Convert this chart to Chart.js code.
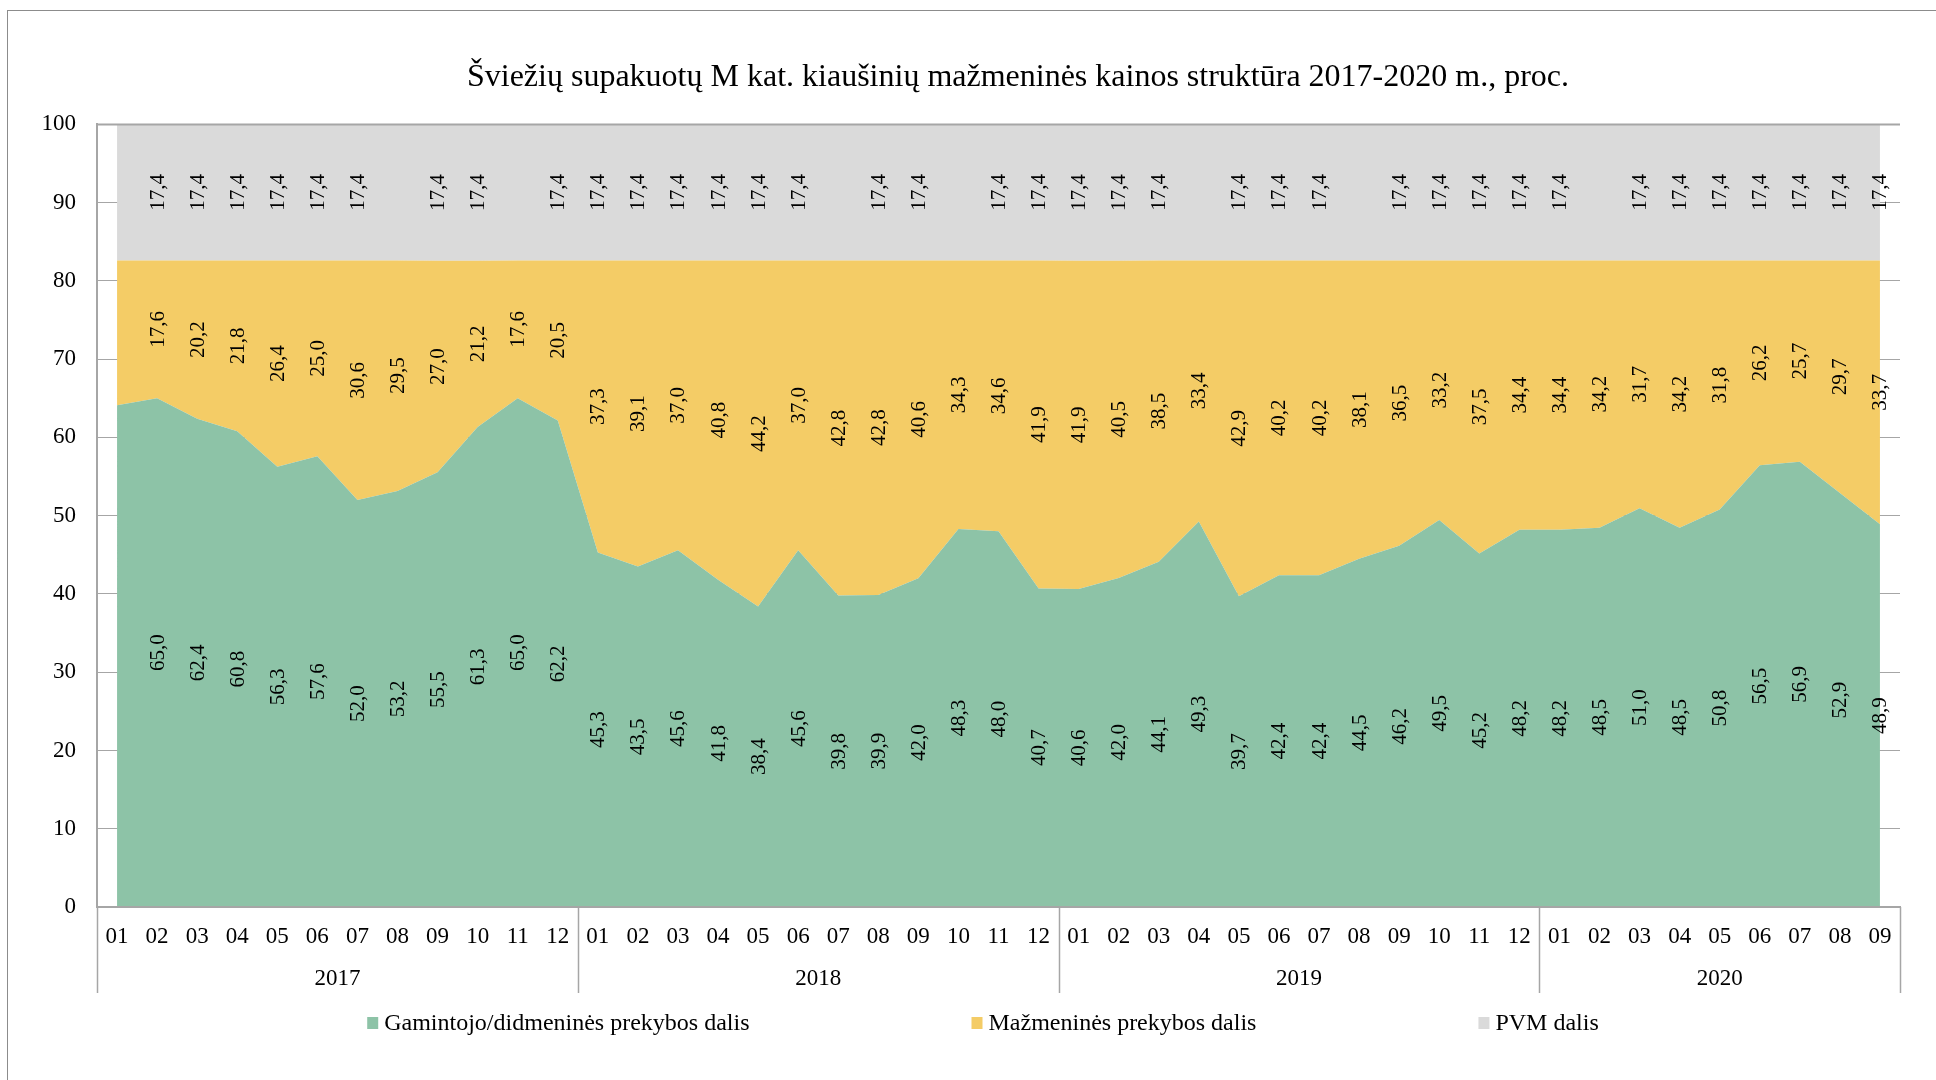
<!DOCTYPE html>
<html>
<head>
<meta charset="utf-8">
<title>Kiaušinių kainos struktūra</title>
<script src="https://cdn.jsdelivr.net/npm/chart.js@4.4.0/dist/chart.umd.min.js"></script>
<style>
  html, body { margin: 0; padding: 0; background: #fff; }
  #wrap { position: relative; width: 1936px; height: 1080px; overflow: hidden; }
  #priceChart { position: absolute; left: 0; top: 0; }
  #frame { position: absolute; left: 7px; top: 10px; width: 1940px; height: 1080px;
           border-left: 1px solid #8c8c8c; border-top: 1px solid #8c8c8c; }
</style>
</head>
<body>
<div id="wrap">
  <canvas id="priceChart" width="1936" height="1080"></canvas>
  <div id="frame"></div>
</div>
<script>
// months 2017-01 .. 2020-09
const monthLabels = [
	'01', '02', '03', '04', '05', '06', '07', '08', '09', '10', '11', '12',
	'01', '02', '03', '04', '05', '06', '07', '08', '09', '10', '11', '12',
	'01', '02', '03', '04', '05', '06', '07', '08', '09', '10', '11', '12',
	'01', '02', '03', '04', '05', '06', '07', '08', '09'
];
const yearLabels = ['2017', '2018', '2019', '2020'];
const yearMonths = [12, 12, 12, 9];

// shares in %, second decimal estimated so the two parts add up to 82,6
const producerShare = [
	64.1, 65.0, 62.4, 60.8, 56.26, 57.6, 52.0, 53.16, 55.54, 61.34, 65.0, 62.16,
	45.3, 43.5, 45.6, 41.8, 38.4, 45.6, 39.8, 39.86, 42.0, 48.3, 48.0, 40.7,
	40.64, 42.04, 44.1, 49.26, 39.7, 42.4, 42.4, 44.5, 46.16, 49.46, 45.16, 48.2,
	48.2, 48.46, 50.96, 48.46, 50.8, 56.46, 56.9, 52.9, 48.9
];
const retailShare = [
	18.5, 17.6, 20.2, 21.8, 26.36, 25.0, 30.6, 29.46, 27.04, 21.24, 17.6, 20.46,
	37.3, 39.1, 37.0, 40.8, 44.2, 37.0, 42.8, 42.76, 40.6, 34.3, 34.6, 41.9,
	41.94, 40.54, 38.5, 33.36, 42.9, 40.2, 40.2, 38.1, 36.46, 33.16, 37.46, 34.4,
	34.4, 34.16, 31.66, 34.16, 31.8, 26.16, 25.7, 29.7, 33.7
];
const vatShare = [
	17.4, 17.4, 17.4, 17.4, 17.4, 17.4, 17.4, 17.4, 17.4, 17.4, 17.4, 17.4,
	17.4, 17.4, 17.4, 17.4, 17.4, 17.4, 17.4, 17.4, 17.4, 17.4, 17.4, 17.4,
	17.4, 17.4, 17.4, 17.4, 17.4, 17.4, 17.4, 17.4, 17.4, 17.4, 17.4, 17.4,
	17.4, 17.4, 17.4, 17.4, 17.4, 17.4, 17.4, 17.4, 17.4
];
const yTicks = [0, 10, 20, 30, 40, 50, 60, 70, 80, 90, 100];

// points whose value label is not shown in the original
const noLabel = [
	[0],
	[0],
	[0, 7, 10, 18, 21, 27, 31, 37]
];

const serif = '"Liberation Serif", "Times New Roman", serif';
const axisGrey = '#a6a6a6';

// year label sits in the middle of its months, separators on the year edges
const yearCenters = [];
const yearEdges = [-0.5];
let start = 0;
yearMonths.forEach(function (n) {
	yearCenters.push(start + (n - 1) / 2);
	start += n;
	yearEdges.push(start - 0.5);
});

const areaLabels = {
	id: 'areaLabels',
	afterDatasetsDraw(chart) {
		const ctx = chart.ctx;
		const y = chart.scales.y;
		const area = chart.chartArea;
		ctx.save();
		// top frame line of the plot
		ctx.strokeStyle = axisGrey;
		ctx.lineWidth = 2;
		ctx.beginPath();
		ctx.moveTo(area.left, area.top);
		ctx.lineTo(area.right, area.top);
		ctx.stroke();

		ctx.font = '21px ' + serif;
		ctx.fillStyle = '#000';
		ctx.textAlign = 'center';
		ctx.textBaseline = 'middle';
		chart.data.datasets.forEach(function (ds, d) {
			const meta = chart.getDatasetMeta(d);
			const below = d > 0 ? chart.getDatasetMeta(d - 1) : null;
			meta.data.forEach(function (pt, i) {
				if (noLabel[d].indexOf(i) >= 0) return;
				const bottom = below ? below.data[i].y : y.getPixelForValue(0);
				ctx.save();
				ctx.translate(pt.x, (pt.y + bottom) / 2);
				ctx.rotate(-Math.PI / 2);
				ctx.fillText(ds.data[i].toFixed(1).replace('.', ','), 0, 1);
				ctx.restore();
			});
		});
		ctx.restore();
	}
};

const yearSeparators = {
	id: 'yearSeparators',
	afterDraw(chart) {
		const ctx = chart.ctx;
		const ys = chart.scales.year;
		ctx.save();
		ctx.strokeStyle = axisGrey;
		ctx.lineWidth = 1.5;
		yearEdges.forEach(function (v) {
			const px = Math.round(ys.getPixelForValue(v)) + 0.5;
			ctx.beginPath();
			ctx.moveTo(px, chart.chartArea.bottom);
			ctx.lineTo(px, ys.bottom);
			ctx.stroke();
		});
		ctx.restore();
	}
};

const legendCenterX = 983;
const legendY = 1023;
const bottomLegend = {
	id: 'bottomLegend',
	afterDraw(chart) {
		const ctx = chart.ctx;
		ctx.save();
		ctx.font = '24px ' + serif;
		ctx.textBaseline = 'middle';
		const gap = 222;
		const items = chart.data.datasets.map(function (ds) {
			return { text: ds.label, color: ds.backgroundColor, w: 17 + ctx.measureText(ds.label).width };
		});
		const total = items.reduce(function (s, it) { return s + it.w; }, 0) + gap * (items.length - 1);
		let x = legendCenterX - total / 2;
		items.forEach(function (it) {
			ctx.fillStyle = it.color;
			ctx.fillRect(x, legendY - 6, 11, 12);
			ctx.fillStyle = '#000';
			ctx.fillText(it.text, x + 17, legendY + 1);
			x += it.w + gap;
		});
		ctx.restore();
	}
};

const shiftTitle = {
	id: 'shiftTitle',
	afterLayout(chart) {
		if (chart.titleBlock) {
			chart.titleBlock.left = 136;
			chart.titleBlock.right = 1900;
		}
	}
};

const priceChart = new Chart(document.getElementById('priceChart'), {
	type: 'line',
	data: {
		labels: monthLabels,
		datasets: [{
			label: 'Gamintojo/didmeninės prekybos dalis',
			data: producerShare,
			backgroundColor: '#8dc3a7',
			fill: 'origin'
		}, {
			label: 'Mažmeninės prekybos dalis',
			data: retailShare,
			backgroundColor: '#f4cc66',
			fill: '-1'
		}, {
			label: 'PVM dalis',
			data: vatShare,
			backgroundColor: '#dadada',
			fill: '-1'
		}]
	},
	options: {
		responsive: false,
		animation: false,
		elements: {
			line: { tension: 0, borderWidth: 0, borderColor: 'transparent' },
			point: { radius: 0, hoverRadius: 0 }
		},
		layout: { padding: { left: 0, right: 36, top: 0, bottom: 87 } },
		scales: {
			x: {
				type: 'category',
				offset: true,
				grid: { display: false },
				border: { display: true, color: axisGrey, width: 2, z: 1 },
				ticks: {
					autoSkip: false, maxRotation: 0, padding: 8,
					color: '#000', font: { family: serif, size: 23 }
				},
				afterFit(scale) { scale.height = 48; }
			},
			year: {
				type: 'linear',
				position: 'bottom',
				min: -0.5,
				max: monthLabels.length - 0.5,
				grid: { display: false },
				border: { display: false },
				afterBuildTicks(scale) {
					scale.ticks = yearCenters.map(function (v) { return { value: v }; });
				},
				ticks: {
					autoSkip: false, maxRotation: 0, padding: 2,
					color: '#000', font: { family: serif, size: 23 },
					callback: function (v, i) { return yearLabels[i]; }
				},
				afterFit(scale) { scale.height = 38; }
			},
			y: {
				stacked: true,
				min: 0,
				max: 100,
				grid: { color: axisGrey, lineWidth: 1, drawTicks: false },
				border: { display: true, color: axisGrey, width: 2 },
				afterBuildTicks(scale) {
					scale.ticks = yTicks.map(function (v) { return { value: v }; });
				},
				ticks: {
					padding: 21, color: '#000', font: { family: serif, size: 23 }
				},
				afterFit(scale) { scale.width = 97; }
			}
		},
		plugins: {
			legend: { display: false },
			tooltip: { enabled: false },
			title: {
				display: true,
				text: 'Šviežių supakuotų M kat. kiaušinių mažmeninės kainos struktūra 2017-2020 m., proc.',
				color: '#000',
				font: { family: serif, size: 32, weight: 'normal' },
				padding: { top: 58, bottom: 28 }
			}
		}
	},
	plugins: [shiftTitle, areaLabels, yearSeparators, bottomLegend]
});
</script>
</body>
</html>
